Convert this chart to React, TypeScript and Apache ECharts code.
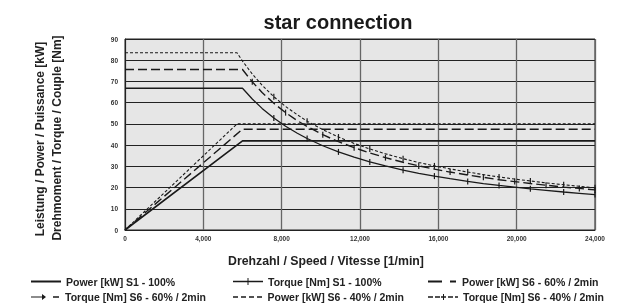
import React, { useEffect, useRef } from "react";
import * as echarts from "echarts";

// speed axis ticks
const speedTicks = [0, 4000, 8000, 12000, 16000, 20000, 24000];

// corner speeds / max values: S1 100%, S6 60%/2min, S6 40%/2min
const cornerSpeeds = [6000, 6000, 5720];
const maxPower = [42, 47.5, 50];
const maxTorque = [66.8, 75.6, 83.5];

// field-weakening torque curves
const torqueSpeeds = [6000, 6500, 7000, 7600, 8200, 8800, 9300, 10100, 10900, 11700, 12500, 13300, 14200, 15000, 15800, 16600, 17500, 18300, 19100, 19900, 20700, 21500, 22400, 23200, 24000];
const torqueS1 = [66.8, 61.7, 57.3, 52.8, 48.9, 45.6, 43.1, 39.7, 36.8, 34.3, 32.1, 30.2, 28.2, 26.7, 25.4, 24.2, 22.9, 21.9, 21.0, 20.2, 19.4, 18.7, 17.9, 17.3, 16.7];
const torqueS6_60 = [75.6, 69.8, 64.8, 59.7, 55.3, 51.5, 48.8, 44.9, 41.6, 38.8, 36.3, 34.1, 31.9, 30.2, 28.7, 27.3, 25.9, 24.8, 23.7, 22.8, 21.9, 21.1, 20.2, 19.6, 18.9];
const torqueS6_40 = [79.6, 73.5, 68.2, 62.8, 58.2, 54.3, 51.3, 47.3, 43.8, 40.8, 38.2, 35.9, 33.6, 31.8, 30.2, 28.8, 27.3, 26.1, 25.0, 24.0, 23.1, 22.2, 21.3, 20.6, 19.9];

// speeds that carry a tick marker
const marksS1 = [7600, 9300, 10900, 12500, 14200, 15800, 17500, 19100, 20700, 22400, 24000];
const marksS6_60 = [6500, 8200, 10100, 11700, 13300, 15000, 16600, 18300, 19900, 21500, 23200, 24000];
const marksS6_40 = [7600, 9300, 10900, 12500, 14200, 15800, 17500, 19100, 20700, 22400, 24000];

const names = [
  "Power [kW] S1 - 100%",
  "Torque [Nm] S1 - 100%",
  "Power [kW] S6 - 60% / 2min",
  "Torque [Nm] S6 - 60% / 2min",
  "Power [kW] S6 - 40% / 2min",
  "Torque [Nm] S6 - 40% / 2min",
];

const FONT = "'Liberation Sans', Arial, Helvetica, sans-serif";
const INK = "#1a1a1a";

// legend glyphs (box 30 wide, given height)
const legendIcons = [
  { h: 2, icon: "path://M0,0L30,0L30,2L0,2Z" },
  { h: 7, icon: "path://M0,2.8L30,2.8L30,4.2L0,4.2ZM14.5,0L15.5,0L15.5,7L14.5,7Z" },
  { h: 2, icon: "path://M0,0L14,0L14,2L0,2ZM22,0L28,0L28,2L22,2Z" },
  { h: 6, icon: "path://M0,2.4L11,2.4L11,0L15,3L11,6L11,3.6L0,3.6ZM22,2.2L28,2.2L28,3.8L22,3.8Z" },
  { h: 1.6, icon: "path://M0,0L5,0L5,1.6L0,1.6ZM8,0L13,0L13,1.6L8,1.6ZM16,0L21,0L21,1.6L16,1.6ZM24,0L29,0L29,1.6L24,1.6Z" },
  { h: 6, icon: "path://M0,2.2L5,2.2L5,3.8L0,3.8ZM7,2.2L12,2.2L12,3.8L7,3.8ZM13,2.2L18,2.2L18,3.8L13,3.8ZM15,0L16,0L16,6L15,6ZM20,2.2L25,2.2L25,3.8L20,3.8ZM27,2.2L30,2.2L30,3.8L27,3.8Z" },
];

function powerData(i: number) {
  return [
    [0, 0],
    [cornerSpeeds[i], maxPower[i]],
    [24000, maxPower[i]],
  ];
}

function torqueData(i: number, values: number[], marks: number[]) {
  const out: any[] = [
    { value: [0, maxTorque[i]], symbol: "none" },
    { value: [cornerSpeeds[i], maxTorque[i]], symbol: "none" },
  ];
  torqueSpeeds.forEach((n, k) => {
    if (n > cornerSpeeds[i]) {
      out.push({ value: [n, values[k]], symbol: marks.includes(n) ? "rect" : "none" });
    }
  });
  return out;
}

export default function App() {
  const ref = useRef<HTMLDivElement>(null);
  useEffect(() => {
    if (!ref.current) return;
    const chart = echarts.init(ref.current, null, { renderer: "svg", width: 630, height: 304 });
    const lineSeries = (name: string, data: any[], width: number, type: any, marker: boolean) => ({
      name,
      type: "line",
      data,
      symbol: marker ? "rect" : "none",
      symbolSize: [1.2, 6],
      showAllSymbol: true,
      itemStyle: { color: INK },
      lineStyle: { color: INK, width, type },
      emphasis: { disabled: true },
      z: 3,
    });
    const legendPos = [
      [31, 281.5],
      [233, 281.5],
      [428, 281.5],
      [31, 297],
      [233, 297],
      [428, 297],
    ];
    chart.setOption({
      animation: false,
      grid: {
        left: 125,
        top: 39,
        width: 470,
        height: 191,
        show: true,
        backgroundColor: "#e6e6e6",
        borderColor: "#222",
        borderWidth: 1,
      },
      legend: names.map((n, i) => ({
        data: [{ name: n, icon: legendIcons[i].icon }],
        left: legendPos[i][0],
        top: legendPos[i][1] - 6,
        padding: 0,
        itemWidth: 30,
        itemHeight: legendIcons[i].h,
        selectedMode: false,
        itemStyle: { color: INK, borderWidth: 0 },
        lineStyle: { width: 0 },
        textStyle: { fontFamily: FONT, fontWeight: "bold", fontSize: 10.5, color: "#222", lineHeight: 12, height: 12 },
      })),
      xAxis: {
        type: "value",
        min: speedTicks[0],
        max: speedTicks[speedTicks.length - 1],
        interval: speedTicks[1] - speedTicks[0],
        axisLine: { show: true, lineStyle: { color: "#222", width: 1 } },
        axisTick: { show: false },
        axisLabel: { fontFamily: FONT, fontWeight: "bold", fontSize: 6.5, color: "#333", margin: 5 },
        splitLine: { show: true, lineStyle: { color: "#666", width: 1.3 } },
      },
      yAxis: {
        type: "value",
        min: 0,
        max: 90,
        interval: 10,
        axisLine: { show: true, lineStyle: { color: "#222", width: 1 } },
        axisTick: { show: false },
        axisLabel: { fontFamily: FONT, fontWeight: "bold", fontSize: 6.5, color: "#333", margin: 7 },
        splitLine: { show: true, lineStyle: { color: "#222", width: 1 } },
      },
      graphic: [
        {
          type: "text",
          x: 338,
          y: 22,
          style: { text: "star connection", align: "center", verticalAlign: "middle", font: `bold 20px ${FONT}`, fill: "#1a1a1a" },
        },
        {
          type: "text",
          x: 326,
          y: 261,
          style: { text: "Drehzahl / Speed / Vitesse [1/min]", align: "center", verticalAlign: "middle", font: `bold 12.3px ${FONT}`, fill: "#222" },
        },
        {
          type: "text",
          x: 40,
          y: 139,
          rotation: Math.PI / 2,
          style: { text: "Leistung / Power / Puissance [kW]", align: "center", verticalAlign: "middle", font: `bold 12px ${FONT}`, fill: "#222" },
        },
        {
          type: "text",
          x: 57,
          y: 138,
          rotation: Math.PI / 2,
          style: { text: "Drehmoment / Torque / Couple [Nm]", align: "center", verticalAlign: "middle", font: `bold 12px ${FONT}`, fill: "#222" },
        },
      ],
      series: [
        lineSeries(names[0], powerData(0), 1.6, "solid", false),
        lineSeries(names[1], torqueData(0, torqueS1, marksS1), 1.3, "solid", true),
        lineSeries(names[2], powerData(1), 1.4, [9, 4], false),
        lineSeries(names[3], torqueData(1, torqueS6_60, marksS6_60), 1.4, [9, 4], true),
        lineSeries(names[4], powerData(2), 1.1, [3, 2], false),
        lineSeries(names[5], torqueData(2, torqueS6_40, marksS6_40), 1.1, [3, 2], true),
      ],
    });
    return () => chart.dispose();
  }, []);
  return <div ref={ref} style={{ position: "fixed", left: 0, top: 0, width: 630, height: 304 }} />;
}
